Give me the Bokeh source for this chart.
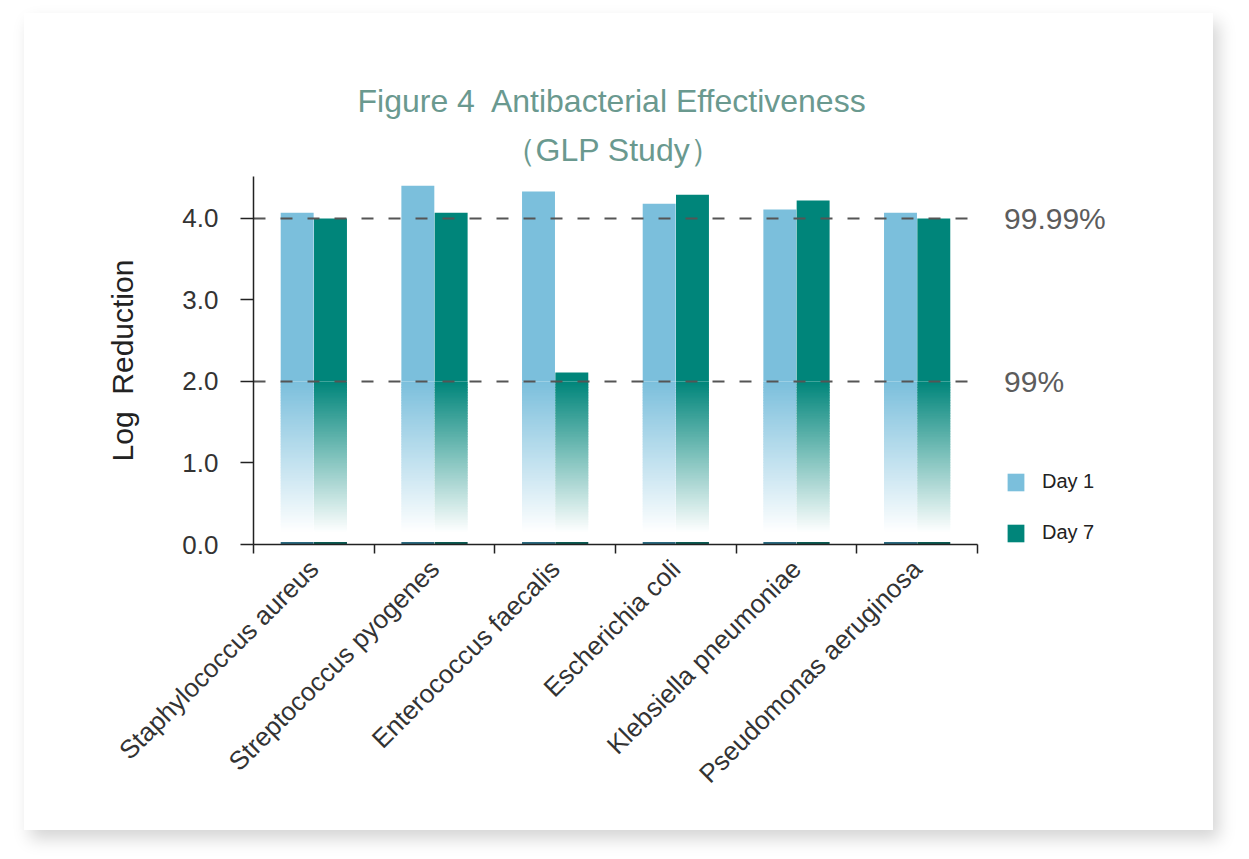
from math import pi
from bokeh.plotting import figure
from bokeh.models import (Label, Legend, LegendItem, FixedTicker, ColumnDataSource,
                          NumeralTickFormatter, Range1d, Title)
from bokeh.embed import file_html
from bokeh.resources import INLINE

# ---------------- data ----------------
species = ["Staphylococcus aureus", "Streptococcus pyogenes", "Enterococcus faecalis",
           "Escherichia coli", "Klebsiella pneumoniae", "Pseudomonas aeruginosa"]
day1 = [4.07, 4.40, 4.33, 4.18, 4.11, 4.07]
day7 = [4.00, 4.07, 2.11, 4.29, 4.22, 4.00]
series_names = ["Day 1", "Day 7"]
thresholds = [4.0, 2.0]
threshold_labels = ["99.99%", "99%"]
y_ticks = [0, 1, 2, 3, 4]
title_lines = ["Figure 4\u00a0 Antibacterial Effectiveness", "（GLP Study）"]

# ---------------- styling ----------------
FONT = "Liberation Sans"
C1, C1_DARK = "#7bbfdc", "#2b6a80"
C7, C7_DARK = "#00857a", "#0a5a52"
TITLE_C = "#6a998f"
FADE_TOP, FADE_BOTTOM = 2.0, 0.15
N_SLICES = 100
OFFSET, WIDTH = 0.138, 0.273
N = len(species)


def blend(hex_color, a):
    r, g, b = (int(hex_color[i:i + 2], 16) for i in (1, 3, 5))
    mix = lambda c: int(round(255 * (1 - a) + c * a))
    return "#%02x%02x%02x" % (mix(r), mix(g), mix(b))


p = figure(width=1189, height=817, x_range=Range1d(0, 7.956), y_range=Range1d(0, 4.515),
           output_backend="svg", toolbar_location=None,
           min_border_left=229, min_border_right=0, min_border_top=163, min_border_bottom=286)
p.styles = {"margin-left": "24px", "margin-top": "13px",
            "box-shadow": "6px 9px 16px rgba(0,0,0,0.17)"}
p.outline_line_color = None
p.grid.visible = False
p.background_fill_color = "white"
p.border_fill_color = "white"

renderers = []
for vals, col, dark, sign in [(day1, C1, C1_DARK, -1), (day7, C7, C7_DARK, 1)]:
    xs = [i + 0.5 + sign * OFFSET for i in range(len(vals))]
    # faded lower part built from thin opaque slices
    sx, sb, st, sc = [], [], [], []
    h = FADE_TOP / N_SLICES
    for x, v in zip(xs, vals):
        for k in range(N_SLICES):
            b = k * h
            if b >= v:
                break
            t = min(b + 1.6 * h, v, FADE_TOP)
            mid = b + h / 2
            a = min(max((mid - FADE_BOTTOM) / (FADE_TOP - FADE_BOTTOM), 0.0), 1.0)
            sx.append(x); sb.append(b); st.append(t); sc.append(blend(col, a))
    src = ColumnDataSource(dict(x=sx, bottom=sb, top=st, color=sc))
    p.vbar(x="x", bottom="bottom", top="top", width=WIDTH, fill_color="color",
           line_color=None, source=src)
    # solid upper part
    r = p.vbar(x=xs, bottom=[FADE_TOP] * len(vals), top=vals, width=WIDTH,
               fill_color=col, line_color=None)
    renderers.append(r)
    # thin dark base
    p.vbar(x=xs, bottom=[0] * len(vals), top=[0.03] * len(vals), width=WIDTH,
           fill_color=dark, line_color=None)

# threshold lines + labels
p.segment(x0=[0] * len(thresholds), x1=[N] * len(thresholds), y0=thresholds, y1=thresholds,
          line_color="#555555", line_width=2, line_dash="12 15")
for t, lab in zip(thresholds, threshold_labels):
    p.add_layout(Label(x=6.22, y=t, text=lab, text_font=FONT, text_font_size="30px",
                       text_color="#5c5c5c", text_baseline="middle", text_align="left"))

# titles (first added = closest to the plot)
p.add_layout(Title(text=title_lines[1], text_font=FONT, text_font_size="32px",
                   text_font_style="normal", text_color=TITLE_C, align="left",
                   offset=250, standoff=18), "above")
p.add_layout(Title(text=title_lines[0], text_font=FONT, text_font_size="32px",
                   text_font_style="normal", text_color=TITLE_C, align="left",
                   offset=104, standoff=4), "above")

# axes
xa = p.xaxis[0]
xa.bounds = (0, N)
xa.ticker = FixedTicker(ticks=[i + 0.5 for i in range(N)], minor_ticks=list(range(N + 1)))
xa.major_label_overrides = {i + 0.5: s for i, s in enumerate(species)}
xa.major_label_orientation = pi / 4
xa.major_tick_out = 0
xa.major_tick_in = 0
xa.minor_tick_out = 9
xa.minor_tick_in = 0
xa.minor_tick_line_color = "#222222"
xa.minor_tick_line_width = 1.5
xa.axis_line_color = "#222222"
xa.axis_line_width = 1.5
xa.major_label_text_font = FONT
xa.major_label_text_font_size = "26px"
xa.major_label_text_color = "#333333"
xa.major_label_standoff = 11

ya = p.yaxis[0]
ya.ticker = FixedTicker(ticks=y_ticks, minor_ticks=[])
ya.formatter = NumeralTickFormatter(format="0.0")
ya.major_tick_out = 13
ya.major_tick_in = 0
ya.major_tick_line_color = "#222222"
ya.major_tick_line_width = 1.5
ya.axis_line_color = "#222222"
ya.axis_line_width = 1.5
ya.major_label_text_font = FONT
ya.major_label_text_font_size = "26px"
ya.major_label_text_color = "#333333"
ya.major_label_standoff = 22
ya.axis_label = "Log\u00a0\u00a0Reduction"
ya.axis_label_text_font = FONT
ya.axis_label_text_font_size = "30px"
ya.axis_label_text_font_style = "normal"
ya.axis_label_text_color = "#222222"
ya.axis_label_standoff = 40

legend = Legend(items=[LegendItem(label=n, renderers=[r]) for n, r in zip(series_names, renderers)],
                location=(752, 0), padding=0, margin=0, spacing=28,
                glyph_width=21, glyph_height=22, label_standoff=16,
                label_text_font=FONT, label_text_font_size="20px", label_text_color="#222222",
                border_line_color=None, background_fill_alpha=0)
p.add_layout(legend)

open("out.html", "w").write(file_html(p, INLINE))
